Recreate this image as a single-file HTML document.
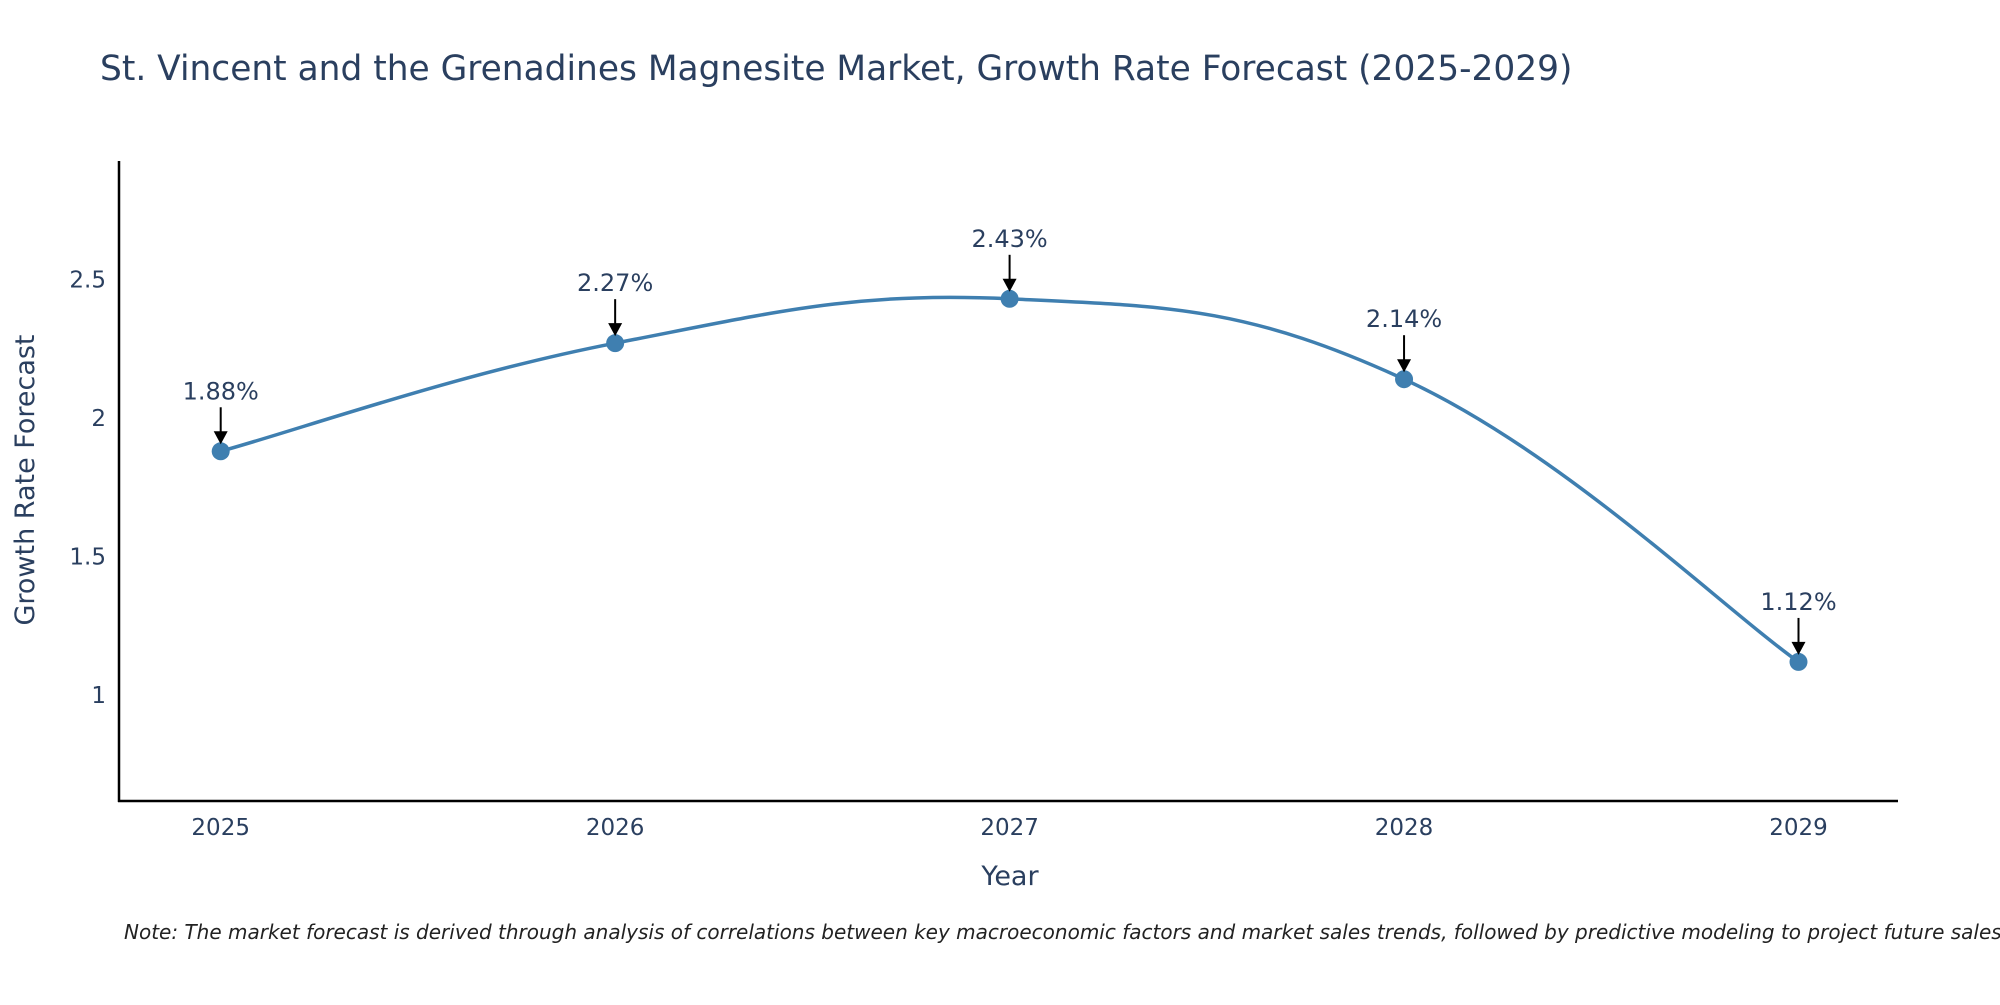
<!DOCTYPE html>
<html><head><meta charset="utf-8"><style>
body{margin:0;background:#fff;}
svg text{font-family:"DejaVu Sans","Liberation Sans",sans-serif;}
</style></head><body>
<svg id="chart" width="2000" height="1000" viewBox="0 0 2000 1000" xmlns="http://www.w3.org/2000/svg">
<text x="100" y="80" font-size="34.4" fill="#2a3f5f">St. Vincent and the Grenadines Magnesite Market, Growth Rate Forecast (2025-2029)</text>
<g id="yticks"></g>
<g id="xticks"></g>
<line x1="119" y1="161" x2="119" y2="802" stroke="#000" stroke-width="2.5"/>
<line x1="118" y1="801" x2="1898" y2="801" stroke="#000" stroke-width="2.5"/>
<path id="line" fill="none" stroke="#3f7fb0" stroke-width="3.5"/>
<g id="points"></g>
<g id="annos"></g>
<text x="34" y="480" font-size="27" fill="#2a3f5f" text-anchor="middle" transform="rotate(-90 34 480)">Growth Rate Forecast</text>
<text x="1010" y="885" font-size="27" fill="#2a3f5f" text-anchor="middle">Year</text>
<text x="124" y="939" font-size="20" font-style="italic" fill="#222">Note: The market forecast is derived through analysis of correlations between key macroeconomic factors and market sales trends, followed by predictive modeling to project future sales.</text>
</svg>
<script>
const years=[2025,2026,2027,2028,2029];
const values=[1.88,2.27,2.43,2.14,1.12];
const labels=["1.88%","2.27%","2.43%","2.14%","1.12%"];
const yTicks=[1,1.5,2,2.5];
const yTickLabels=["1","1.5","2","2.5"];
const NS="http://www.w3.org/2000/svg";
function xs(v){return 220.7+(v-2025)*394.45;}
function ys(v){return 279.4-(v-2.5)*277.2;}
function mk(tag,attrs,parent,txt){const e=document.createElementNS(NS,tag);for(const k in attrs)e.setAttribute(k,attrs[k]);if(txt!==undefined)e.textContent=txt;parent.appendChild(e);return e;}
const yt=document.getElementById('yticks');
yTicks.forEach((t,i)=>{const e=mk('text',{x:106,y:ys(t)+8,'font-size':23,fill:'#2a3f5f','text-anchor':'end'},yt,yTickLabels[i]);

});
const xt=document.getElementById('xticks');
years.forEach(y=>{const e=mk('text',{x:xs(y),y:835,'font-size':23,fill:'#2a3f5f','text-anchor':'middle'},xt,String(y));

});
const P=years.map((y,i)=>[xs(y),ys(values[i])]);
let d='M'+P[0][0]+','+P[0][1];
const s=0.2;
for(let i=0;i<P.length-1;i++){
 const p0=P[Math.max(i-1,0)],p1=P[i],p2=P[i+1],p3=P[Math.min(i+2,P.length-1)];
 const c1=[p1[0]+(p2[0]-p0[0])*s,p1[1]+(p2[1]-p0[1])*s];
 const c2=[p2[0]-(p3[0]-p1[0])*s,p2[1]-(p3[1]-p1[1])*s];
 d+=' C'+c1+' '+c2+' '+p2;
}
document.getElementById('line').setAttribute('d',d);
const pts=document.getElementById('points'),an=document.getElementById('annos');
P.forEach((p,i)=>{
 const c=mk('circle',{cx:p[0],cy:p[1],r:9,fill:'#3f7fb0'},pts);
 
 
 const l=mk('line',{x1:p[0],y1:p[1]-44,x2:p[0],y2:p[1]-16,stroke:'#000','stroke-width':2},an);
 
 
 const h=mk('polygon',{points:`${p[0]-7},${p[1]-20} ${p[0]+7},${p[1]-20} ${p[0]},${p[1]-7}`,fill:'#000'},an);
 
 
 const t=mk('text',{x:p[0],y:p[1]-52,'font-size':24,fill:'#2a3f5f','text-anchor':'middle'},an,labels[i]);
 
 
});
</script>
</body></html>
